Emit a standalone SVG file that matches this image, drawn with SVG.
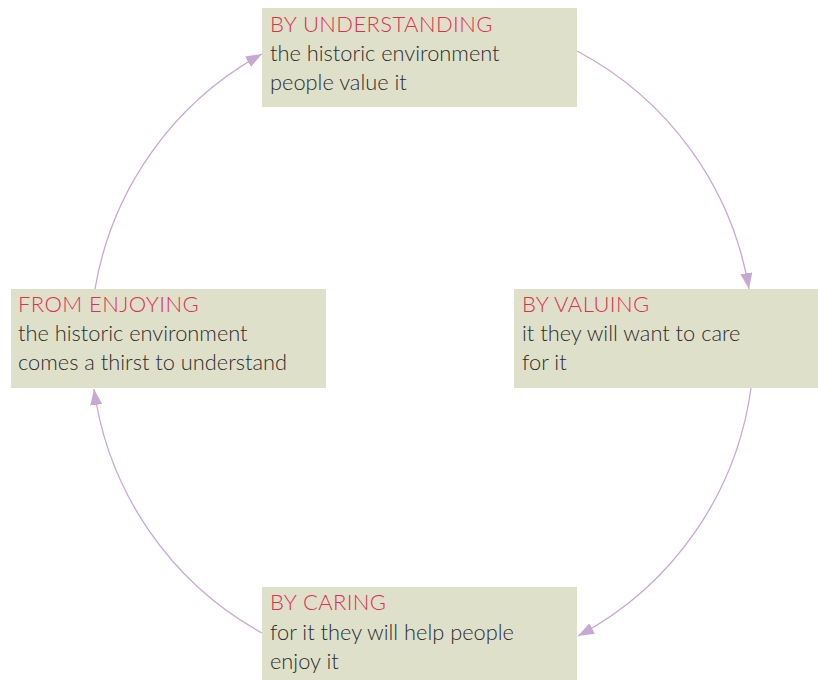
<svg xmlns="http://www.w3.org/2000/svg" width="818" height="680" viewBox="0 0 818 680">
  <style>
    .box { fill: #dfe0ca; }
    .head { font-family: Lato, "Open Sans", "Liberation Sans", sans-serif; font-weight: 300; font-size: 22px; letter-spacing: 0.4px; fill: #e0304f; }
    .body { font-family: Lato, "Open Sans", "Liberation Sans", sans-serif; font-weight: 300; font-size: 21.8px; fill: #2c2c2c; }
    .link { fill: none; stroke: #c6a8d3; stroke-width: 1.3; }
  </style>
  <defs>
    <marker id="arrow" markerUnits="userSpaceOnUse" markerWidth="18" markerHeight="14" refX="16" refY="6" orient="auto">
      <path d="M0,0 L16,6 L0,12 Z" fill="#c6a8d3"/>
    </marker>
  </defs>
  <rect width="818" height="680" fill="#ffffff"/>

  <!-- cycle connectors: arcs of one circle, clockwise -->
  <g id="connectors">
    <path class="link" marker-end="url(#arrow)" d="M577,51 A331,331 0 0 1 749,289"/>
    <path class="link" marker-end="url(#arrow)" d="M751,388 A331,331 0 0 1 578,636"/>
    <path class="link" marker-end="url(#arrow)" d="M262,633 A331,331 0 0 1 94,389"/>
    <path class="link" marker-end="url(#arrow)" d="M95,289 A331,331 0 0 1 262,54"/>
  </g>

  <g id="understanding">
    <rect class="box" x="262" y="8" width="315" height="99"/>
    <text class="head" x="270" y="32">BY UNDERSTANDING</text>
    <text class="body" x="270" y="61">the historic environment</text>
    <text class="body" x="270" y="90">people value it</text>
  </g>

  <g id="valuing">
    <rect class="box" x="514" y="289" width="304" height="99"/>
    <text class="head" x="522" y="312">BY VALUING</text>
    <text class="body" x="522" y="341">it they will want to care</text>
    <text class="body" x="522" y="370">for it</text>
  </g>

  <g id="caring">
    <rect class="box" x="262" y="587" width="315" height="93"/>
    <text class="head" x="270" y="610">BY CARING</text>
    <text class="body" x="270" y="640">for it they will help people</text>
    <text class="body" x="270" y="669">enjoy it</text>
  </g>

  <g id="enjoying">
    <rect class="box" x="11" y="289" width="315" height="99"/>
    <text class="head" x="18" y="312">FROM ENJOYING</text>
    <text class="body" x="18" y="341">the historic environment</text>
    <text class="body" x="18" y="370">comes a thirst to understand</text>
  </g>
</svg>
